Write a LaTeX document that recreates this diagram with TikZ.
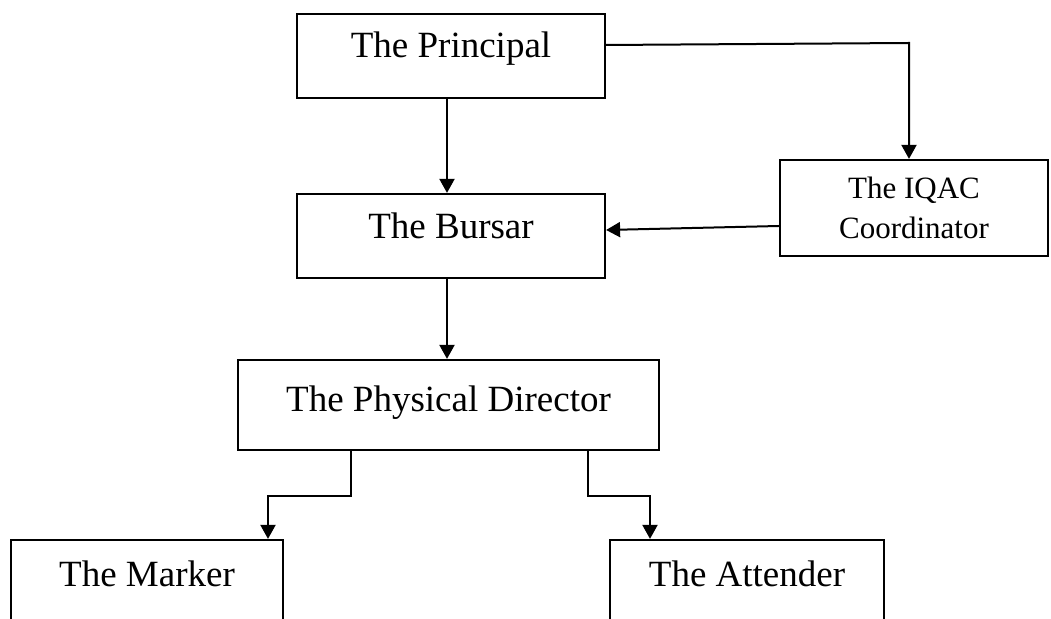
\documentclass[tikz,border=0pt]{standalone}
\usepackage{fontspec}
\setmainfont{Liberation Serif}
\usetikzlibrary{positioning, calc, arrows.meta}

\tikzset{
    box/.style={draw, line width=1.1pt, inner sep=0pt, align=center},
    arr/.style={line width=1pt, -{Triangle[length=7pt,width=7.5pt]}}
}

\begin{document}
\begin{tikzpicture}[x=0.5pt, y=-0.5pt]
    \clip (0,0) rectangle (1051,619);

    \node[box, minimum width=154pt, minimum height=42pt, text height=22pt, text depth=20pt,
          font=\fontsize{18.5}{22}\selectfont] (principal) at (451,56) {The Principal};
    \node[box, minimum width=154pt, minimum height=42pt, text height=22.5pt, text depth=19.5pt,
          font=\fontsize{18.5}{22}\selectfont] (bursar) at (451,236) {The Bursar};
    \node[box, minimum width=134pt, minimum height=48pt,
          font=\fontsize{15.5}{20}\selectfont] (iqac) at (914,208) {The IQAC\\Coordinator};
    \node[box, minimum width=210.5pt, minimum height=45pt, text height=26pt, text depth=19pt,
          font=\fontsize{18.5}{22}\selectfont] (director) at (448.5,405) {The Physical Director};
    \node[box, minimum width=136pt, minimum height=50pt, text height=23.5pt, text depth=26.5pt,
          font=\fontsize{18.5}{22}\selectfont] (marker) at (147,590) {The Marker};
    \node[box, minimum width=137pt, minimum height=50pt, text height=23.5pt, text depth=26.5pt,
          font=\fontsize{18.5}{22}\selectfont] (attender) at (747,590) {The Attender};

    % bends of the connectors
    \coordinate (iqacturn) at (909,43);
    \coordinate (leftdown) at (351,496);
    \coordinate (leftend) at (268,496);
    \coordinate (rightdown) at (588,496);
    \coordinate (rightend) at (650,496);

    \draw[arr] ([xshift=-2pt]principal.south) -- ([xshift=-2pt]bursar.north);
    \draw[arr] ([yshift=5.5pt]principal.east) -- (iqacturn) -- (iqacturn |- iqac.north);
    \draw[arr] ([yshift=-9pt]iqac.west) -- ([yshift=3pt]bursar.east);
    \draw[arr] ([xshift=-2pt]bursar.south) -- ([xshift=-2pt]bursar.south |- director.north);
    \draw[arr] (leftdown |- director.south) -- (leftdown) -- (leftend) -- (leftend |- marker.north);
    \draw[arr] (rightdown |- director.south) -- (rightdown) -- (rightend) -- (rightend |- attender.north);
\end{tikzpicture}
\end{document}
